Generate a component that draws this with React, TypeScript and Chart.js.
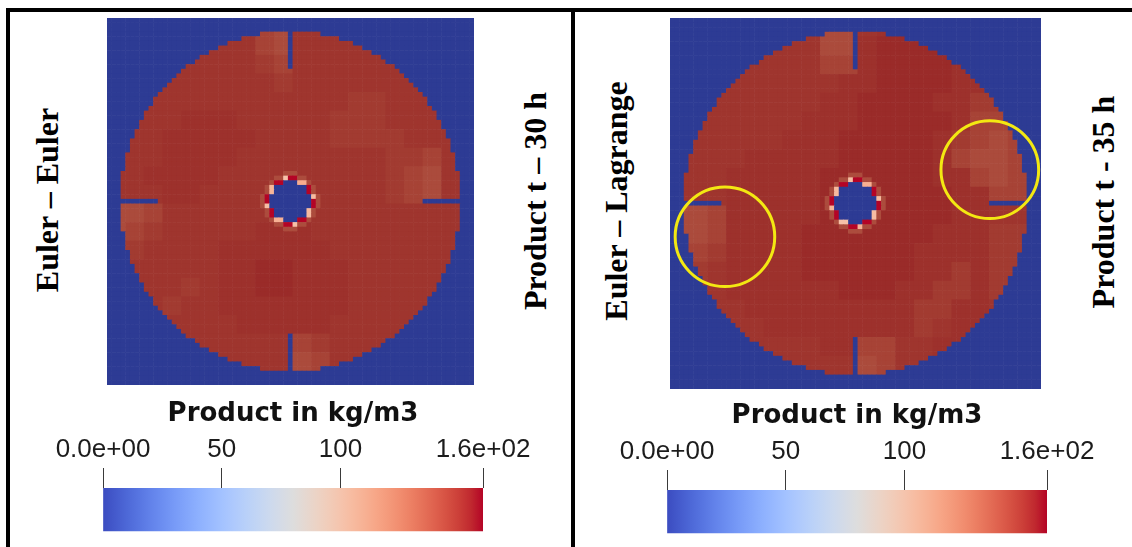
import React, { useEffect, useRef } from 'react';
import { Chart, registerables } from 'chart.js';

Chart.register(...registerables);

// ---------- data ----------
const GRID_N = 79;
const RANGE_MIN = 0;
const RANGE_MAX = 160;
const tickValues = [0, 50, 100, 160];
const tickLabels = ['0.0e+00', '50', '100', '1.6e+02'];
const colorbarTitle = 'Product in kg/m3';
const colorbarRows = ['colour bar', '', ''];

// concentration levels (kg/m3) used by the coarse field maps
const levelKeys = ['1', '2', '3', '4', '5', '6', '7'];
const levelValues = [151.5, 149.5, 148, 146, 143, 139.5, 136];

// coarse 20x20 field readings (rows top -> bottom)
const eulerEulerMap = [
  '33333333563333333333',
  '33333333563333333333',
  '33333333453333333333',
  '33333333343333333333',
  '33333333333334433333',
  '33332223333344433333',
  '33322222333344443333',
  '33322223333333344533',
  '33222233333333345633',
  '33322333333333345633',
  '66533333333333333333',
  '65433333222333333333',
  '34333322222233333333',
  '33333322112223333333',
  '33334322112223333333',
  '33343322222223333333',
  '33333332222233333333',
  '33333333335433333333',
  '33333333336533333333',
  '33333333336533333333',
];

const eulerLagrangeMap = [
  '33333333663222222223',
  '33333333662111122223',
  '33333333552111122233',
  '33333333322111122333',
  '33333333221111224433',
  '33333332221111125543',
  '33333322211111245653',
  '33332222211111256653',
  '33322222111111225653',
  '33322222111111122553',
  '66522222111111122333',
  '66522221111111222443',
  '35422221111112222443',
  '34322221111112242443',
  '33322222211122442443',
  '33332222222224422333',
  '33333222222224322333',
  '33333333225533223333',
  '33333333336533333333',
  '33333333336633333333',
];

// values on the speckled ring around the central shaft (16 sectors, clockwise from east)
const ringValuesEE = [160, 106, 160, 102, 160, 110, 160, 104, 160, 108, 160, 101, 160, 112, 160, 105];
const ringValuesEL = [160, 104, 160, 110, 160, 102, 160, 108, 160, 106, 160, 103, 160, 111, 160, 105];
const haloValue = 139;

// highlighted regions (grid units) on the Euler-Lagrange result
const circleX = [11.2, 67.6];
const circleY = [46.1, 31.8];
const circleR = [10.6, 10.4];

// cool-to-warm colour map
const coolwarmStops: number[][] = [
  [59, 76, 192], [68, 90, 204], [77, 104, 215], [87, 117, 225], [98, 130, 234],
  [108, 142, 241], [119, 154, 247], [130, 165, 251], [141, 176, 254], [152, 185, 255],
  [163, 194, 255], [174, 201, 253], [184, 208, 249], [194, 213, 244], [204, 217, 238],
  [213, 219, 230], [221, 221, 221], [229, 216, 209], [236, 211, 197], [241, 204, 185],
  [245, 196, 173], [247, 187, 160], [247, 177, 148], [247, 166, 135], [244, 154, 123],
  [241, 141, 111], [236, 127, 99], [229, 112, 88], [222, 96, 77], [213, 80, 66],
  [203, 62, 56], [192, 40, 47], [180, 4, 38],
];

// geometry (grid units)
const CENTER = 39;
const DISK_R = 36.6;
const HOLE_R = 4.3;
const RING_R = 5.3;
const HALO_R = 6.2;
const BAFFLE_LEN = 8;
const SHADE = 0.77;

function coolwarm(t: number): number[] {
  const c = Math.max(0, Math.min(1, t)) * (coolwarmStops.length - 1);
  const i0 = Math.floor(c);
  const i1 = Math.min(coolwarmStops.length - 1, i0 + 1);
  const f = c - i0;
  const a = coolwarmStops[i0];
  const b = coolwarmStops[i1];
  return [a[0] + (b[0] - a[0]) * f, a[1] + (b[1] - a[1]) * f, a[2] + (b[2] - a[2]) * f];
}

function cellColor(raw: any): string {
  const [r, g, b] = coolwarm((raw.v - RANGE_MIN) / (RANGE_MAX - RANGE_MIN));
  const s = raw.lit ? 1 : SHADE;
  return `rgb(${Math.round(r * s)},${Math.round(g * s)},${Math.round(b * s)})`;
}

function buildCells(map: string[], ring: number[]) {
  const cells: any[] = [];
  const rows = map.length;
  const cols = map[0].length;
  for (let j = 0; j < GRID_N; j++) {
    for (let i = 0; i < GRID_N; i++) {
      const dx = i - CENTER;
      const dy = j - CENTER;
      const d = Math.sqrt(dx * dx + dy * dy);
      const isBaffle =
        (i === CENTER && Math.abs(dy) > DISK_R - BAFFLE_LEN) ||
        (j === CENTER && Math.abs(dx) > DISK_R - BAFFLE_LEN);
      let v = 0;
      let lit = false;
      if (d > DISK_R || isBaffle || d <= HOLE_R) {
        v = 0;
      } else if (d <= RING_R) {
        let ang = Math.atan2(dy, dx);
        if (ang < 0) ang += Math.PI * 2;
        const sector = Math.floor(ang / ((Math.PI * 2) / ring.length)) % ring.length;
        v = ring[sector];
        lit = true;
      } else if (d <= HALO_R) {
        v = haloValue;
      } else {
        const r = Math.floor((j * rows) / GRID_N);
        const c = Math.floor((i * cols) / GRID_N);
        v = levelValues[levelKeys.indexOf(map[r][c])];
      }
      cells.push({ x: i, y: j, v, lit });
    }
  }
  return cells;
}

// ---------- components ----------
function FieldChart(props: { map: string[]; ring: number[]; left: number; top: number; size: number; circles: boolean }) {
  const ref = useRef<HTMLCanvasElement | null>(null);
  useEffect(() => {
    if (!ref.current) return;
    const cells = buildCells(props.map, props.ring);
    const cellPx = (chart: any) => {
      const a = chart.chartArea;
      const w = a ? a.right - a.left : props.size;
      return w / GRID_N;
    };
    const datasets: any[] = [
      {
        data: cells,
        order: 2,
        pointStyle: 'rect',
        pointRadius: (ctx: any) => (cellPx(ctx.chart) + 0.6) * Math.SQRT1_2,
        pointHoverRadius: (ctx: any) => (cellPx(ctx.chart) + 0.6) * Math.SQRT1_2,
        backgroundColor: (ctx: any) => (ctx.raw ? cellColor(ctx.raw) : '#000'),
        borderWidth: 0,
        pointBorderWidth: 0,
        clip: 0,
      },
    ];
    if (props.circles) {
      datasets.push({
        data: circleX.map((x, k) => ({ x, y: circleY[k], r: circleR[k] })),
        order: 1,
        pointStyle: 'circle',
        pointRadius: (ctx: any) => (ctx.raw ? ctx.raw.r * cellPx(ctx.chart) : 0),
        pointHoverRadius: (ctx: any) => (ctx.raw ? ctx.raw.r * cellPx(ctx.chart) : 0),
        backgroundColor: 'rgba(0,0,0,0)',
        borderColor: '#f3e812',
        pointBorderColor: '#f3e812',
        pointBorderWidth: 3,
        borderWidth: 3,
        clip: 0,
      });
    }
    const chart = new Chart(ref.current, {
      type: 'scatter',
      data: { datasets },
      options: {
        animation: false,
        responsive: false,
        maintainAspectRatio: false,
        events: [],
        layout: { padding: 0, autoPadding: false },
        plugins: { legend: { display: false }, tooltip: { enabled: false }, title: { display: false } },
        scales: {
          x: { type: 'linear', min: -0.5, max: GRID_N - 0.5, display: false },
          y: { type: 'linear', min: -0.5, max: GRID_N - 0.5, reverse: true, display: false },
        },
      } as any,
    });
    return () => chart.destroy();
  }, []);
  return (
    <canvas
      ref={ref}
      width={props.size}
      height={props.size}
      style={{ position: 'absolute', left: props.left, top: props.top, width: props.size, height: props.size }}
    />
  );
}

function ColorBar(props: { left: number; top: number; barWidth: number; barTop: number; barBottom: number }) {
  const ref = useRef<HTMLCanvasElement | null>(null);
  const pad = 60;
  const padTop = 5;
  const width = props.barWidth + pad * 2;
  const barH = props.barBottom - props.barTop;
  const height = props.barTop - props.top + barH * colorbarRows.length;
  useEffect(() => {
    if (!ref.current) return;
    const chart = new Chart(ref.current, {
      type: 'bar',
      data: {
        labels: colorbarRows,
        datasets: [
          {
            data: [[RANGE_MIN, RANGE_MAX], null, null],
            backgroundColor: (ctx: any) => {
              const a = ctx.chart.chartArea;
              if (!a) return '#888';
              const g = ctx.chart.ctx.createLinearGradient(a.left, 0, a.right, 0);
              coolwarmStops.forEach((c, k) => {
                g.addColorStop(k / (coolwarmStops.length - 1), `rgb(${c[0]},${c[1]},${c[2]})`);
              });
              return g;
            },
            borderWidth: 0,
            barPercentage: 1,
            categoryPercentage: 1,
          },
        ],
      },
      options: {
        indexAxis: 'y',
        animation: false,
        responsive: false,
        maintainAspectRatio: false,
        events: [],
        layout: { padding: { top: padTop, left: pad, right: pad, bottom: 0 }, autoPadding: false },
        plugins: { legend: { display: false }, tooltip: { enabled: false } },
        scales: {
          x: {
            type: 'linear',
            position: 'top',
            min: RANGE_MIN,
            max: RANGE_MAX,
            afterBuildTicks: (axis: any) => {
              axis.ticks = tickValues.map((value) => ({ value }));
            },
            afterFit: (axis: any) => {
              axis.height = props.barTop - props.top - padTop;
            },
            ticks: {
              callback: (_v: any, index: number) => tickLabels[index],
              font: { family: '"Liberation Sans", Arial, sans-serif', size: 26 },
              color: '#1c1c1c',
              padding: 3,
              autoSkip: false,
              maxRotation: 0,
              minRotation: 0,
            },
            grid: { drawOnChartArea: false, drawTicks: true, tickLength: 20, color: '#3a3a3a', lineWidth: 1 },
            border: { display: false },
            title: {
              display: true,
              text: colorbarTitle,
              font: { family: '"DejaVu Sans", sans-serif', size: 26, weight: 'bold' },
              color: '#111',
              padding: { top: 4, bottom: 4 },
            },
          },
          y: { display: false },
        },
      } as any,
    });
    return () => chart.destroy();
  }, []);
  return (
    <canvas
      ref={ref}
      width={width}
      height={height}
      style={{ position: 'absolute', left: props.left - pad, top: props.top, width, height }}
    />
  );
}

function VText(props: { text: string; cx: number; cy: number }) {
  return (
    <div
      style={{
        position: 'absolute',
        left: props.cx - 200,
        top: props.cy - 16,
        width: 400,
        height: 32,
        lineHeight: '32px',
        textAlign: 'center',
        fontFamily: '"Liberation Serif", "Times New Roman", serif',
        fontWeight: 'bold',
        fontSize: 32,
        color: '#000',
        whiteSpace: 'nowrap',
        transform: 'rotate(-90deg)',
      }}
    >
      {props.text}
    </div>
  );
}

export default function App() {
  return (
    <div style={{ position: 'fixed', left: 0, top: 0, width: 1132, height: 547, background: '#fff', overflow: 'hidden' }}>
      <div style={{ position: 'absolute', left: 6, top: 8, width: 1126, height: 4, background: '#000' }} />
      <div style={{ position: 'absolute', left: 6, top: 8, width: 4, height: 539, background: '#000' }} />
      <div style={{ position: 'absolute', left: 571, top: 8, width: 4, height: 539, background: '#000' }} />

      <VText text="Euler – Euler" cx={47} cy={200} />
      <VText text="Product t – 30 h" cx={535} cy={201} />
      <VText text="Euler – Lagrange" cx={616} cy={201} />
      <VText text="Product t - 35 h" cx={1103} cy={202} />

      <FieldChart map={eulerEulerMap} ring={ringValuesEE} left={107} top={18} size={367} circles={false} />
      <FieldChart map={eulerLagrangeMap} ring={ringValuesEL} left={670} top={18} size={371} circles={true} />

      <ColorBar left={103} top={390} barWidth={380} barTop={488} barBottom={531} />
      <ColorBar left={667} top={392} barWidth={380} barTop={490} barBottom={533} />
    </div>
  );
}
